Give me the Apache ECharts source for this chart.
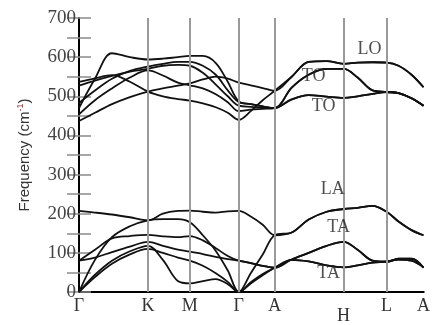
<!DOCTYPE html>
<html><head><meta charset="utf-8">
<script src="https://cdn.jsdelivr.net/npm/echarts@6/dist/echarts.min.js"></script>
<style>html,body{margin:0;padding:0;background:#fff}#c{width:433px;height:325px}</style>
</head><body><div id="c"></div>
<script>
// k-path distance of sample points and high-symmetry points
const kPath = [0,16,33,51,69, 84,99,111, 124,137,149,160, 172,184,196, 213,230,248,265, 279,294,308, 320,333,345];
const kTicks = [0,69,111,160,196,265,308,345];
const kLabels = ['Γ','K','M','Γ','A','H','L','A'];

// acoustic / low branches (cm^-1)
const band1 = [0,38,72,96,110, 100,88,80, 67,48,26,0, 22,43,62, 82,78,68,63, 68,75,78, 83,80,63];
const band2 = [0,44,80,104,118, 82,28,22, 28,33,20,0, 25,46,62, 83,100,118,128, 108,80,77, 85,85,62];
const band3 = [80,88,102,116,128, 118,108,103, 97,90,84,80, 74,67,62, 82,78,68,63, 68,75,78, 83,80,63];
const band4 = [80,108,137,143,146, 142,140,143, 132,112,92,80, 74,67,62, 83,100,118,128, 108,80,77, 85,85,62];
const band5 = [0,82,140,168,183, 186,186,178, 145,105,55,0, 48,96,145, 152,185,205,212, 215,220,205, 180,158,145];
const band6 = [207,203,198,191,183, 200,207,208, 205,203,206,207, 193,172,145, 152,185,205,212, 215,220,205, 180,158,145];
// optical branches
const band7 = [437,458,480,498,512, 520,527,533, 543,550,545,535, 528,521,514, 550,588,590,583, 586,587,586, 578,555,523];
const band8 = [537,546,554,537,512, 500,493,489, 482,472,458,440, 462,490,514, 550,588,590,583, 586,587,586, 578,555,523];
const band9 = [483,515,545,565,576, 583,588,588, 578,555,515,485, 480,474,470, 522,555,570,570, 548,515,511, 508,495,476];
const band10 = [470,545,610,600,594, 596,600,603, 603,585,537,487, 480,474,470, 522,555,570,570, 548,515,511, 508,495,476];
const band11 = [454,490,520,548,566, 553,535,528, 520,505,485,462, 466,468,470, 492,503,499,496, 500,506,511, 508,495,476];
const band12 = [527,540,552,563,570, 578,580,578, 560,530,500,476, 473,471,470, 492,503,499,496, 500,506,511, 508,495,476];

const bands = [band1,band2,band3,band4,band5,band6,band7,band8,band9,band10,band11,band12];

// mode annotations
const modeLabels = ['LO','TO','TO','LA','TA','TA'];
const modeLabelK = [291,235,245,254,260,250];
const modeLabelF = [620,550,475,262,165,47];

const serif = 'Liberation Serif';
const chart = echarts.init(document.getElementById('c'));

const series = bands.map(b => ({
  type: 'line',
  data: kPath.map((k, i) => [k, b[i]]),
  showSymbol: false,
  smooth: 0.35,
  lineStyle: { color: '#111', width: 1.8 },
  z: 3,
  silent: true
}));

series.push({
  type: 'line',
  data: [],
  markLine: {
    silent: true,
    symbol: 'none',
    label: { show: false },
    lineStyle: { color: '#9a9a9a', width: 2, type: 'solid' },
    data: kTicks.slice(1, -1).map(k => ({ xAxis: k }))
  },
  z: 1
});

series.push({
  type: 'scatter',
  data: modeLabels.map((t, i) => ({ value: [modeLabelK[i], modeLabelF[i]], name: t })),
  symbolSize: 0,
  label: {
    show: true,
    position: 'inside',
    formatter: p => p.name,
    fontFamily: serif,
    fontSize: 18,
    color: '#222'
  },
  z: 5,
  silent: true
});

const tickStyle = { color: '#8a8a8a', width: 1.5 };

chart.setOption({
  animation: false,
  grid: { left: 79, right: 9, top: 18, bottom: 27 },
  xAxis: [{
    type: 'value', min: 0, max: 345, position: 'bottom',
    axisLine: { show: true, lineStyle: { color: '#000', width: 2 } },
    axisTick: { show: false },
    splitLine: { show: false },
    axisLabel: {
      customValues: kTicks,
      formatter: v => {
        const l = kLabels[kTicks.indexOf(v)];
        return l === 'H' ? '{h|H}' : l;
      },
      fontFamily: serif, fontSize: 18, color: '#333', margin: 5,
      rich: { h: { fontFamily: serif, fontSize: 18, color: '#333', padding: [10, 0, 0, 0] } }
    }
  }, {
    type: 'value', min: 0, max: 345, position: 'top',
    axisLine: { show: true, lineStyle: { color: '#000', width: 2 } },
    axisTick: { show: false }, axisLabel: { show: false }, splitLine: { show: false }
  }],
  yAxis: [{
    type: 'value', min: 0, max: 700, interval: 100, position: 'left',
    axisLine: { show: true, lineStyle: { color: '#000', width: 2 } },
    axisTick: { show: true, inside: true, length: 12, lineStyle: tickStyle },
    minorTick: { show: true, splitNumber: 2, length: 12, lineStyle: tickStyle },
    splitLine: { show: false },
    axisLabel: { fontFamily: serif, fontSize: 19, color: '#444', margin: 3 },
    name: 'Frequency (cm{sup|-1})',
    nameLocation: 'middle', nameRotate: 90, nameGap: 46,
    nameTextStyle: {
      fontFamily: 'Liberation Sans', fontSize: 15, color: '#333',
      rich: { sup: { fontFamily: 'Liberation Sans', fontSize: 9, color: '#833', padding: [0, 0, 8, 0] } }
    }
  }, {
    type: 'value', min: 0, max: 700, interval: 100, position: 'right',
    axisLine: { show: true, lineStyle: { color: '#000', width: 2 } },
    axisTick: { show: true, inside: true, length: 12, lineStyle: tickStyle },
    minorTick: { show: true, splitNumber: 2, length: 12, lineStyle: tickStyle },
    splitLine: { show: false },
    axisLabel: { show: false }
  }],
  series
});
</script>
</body></html>
